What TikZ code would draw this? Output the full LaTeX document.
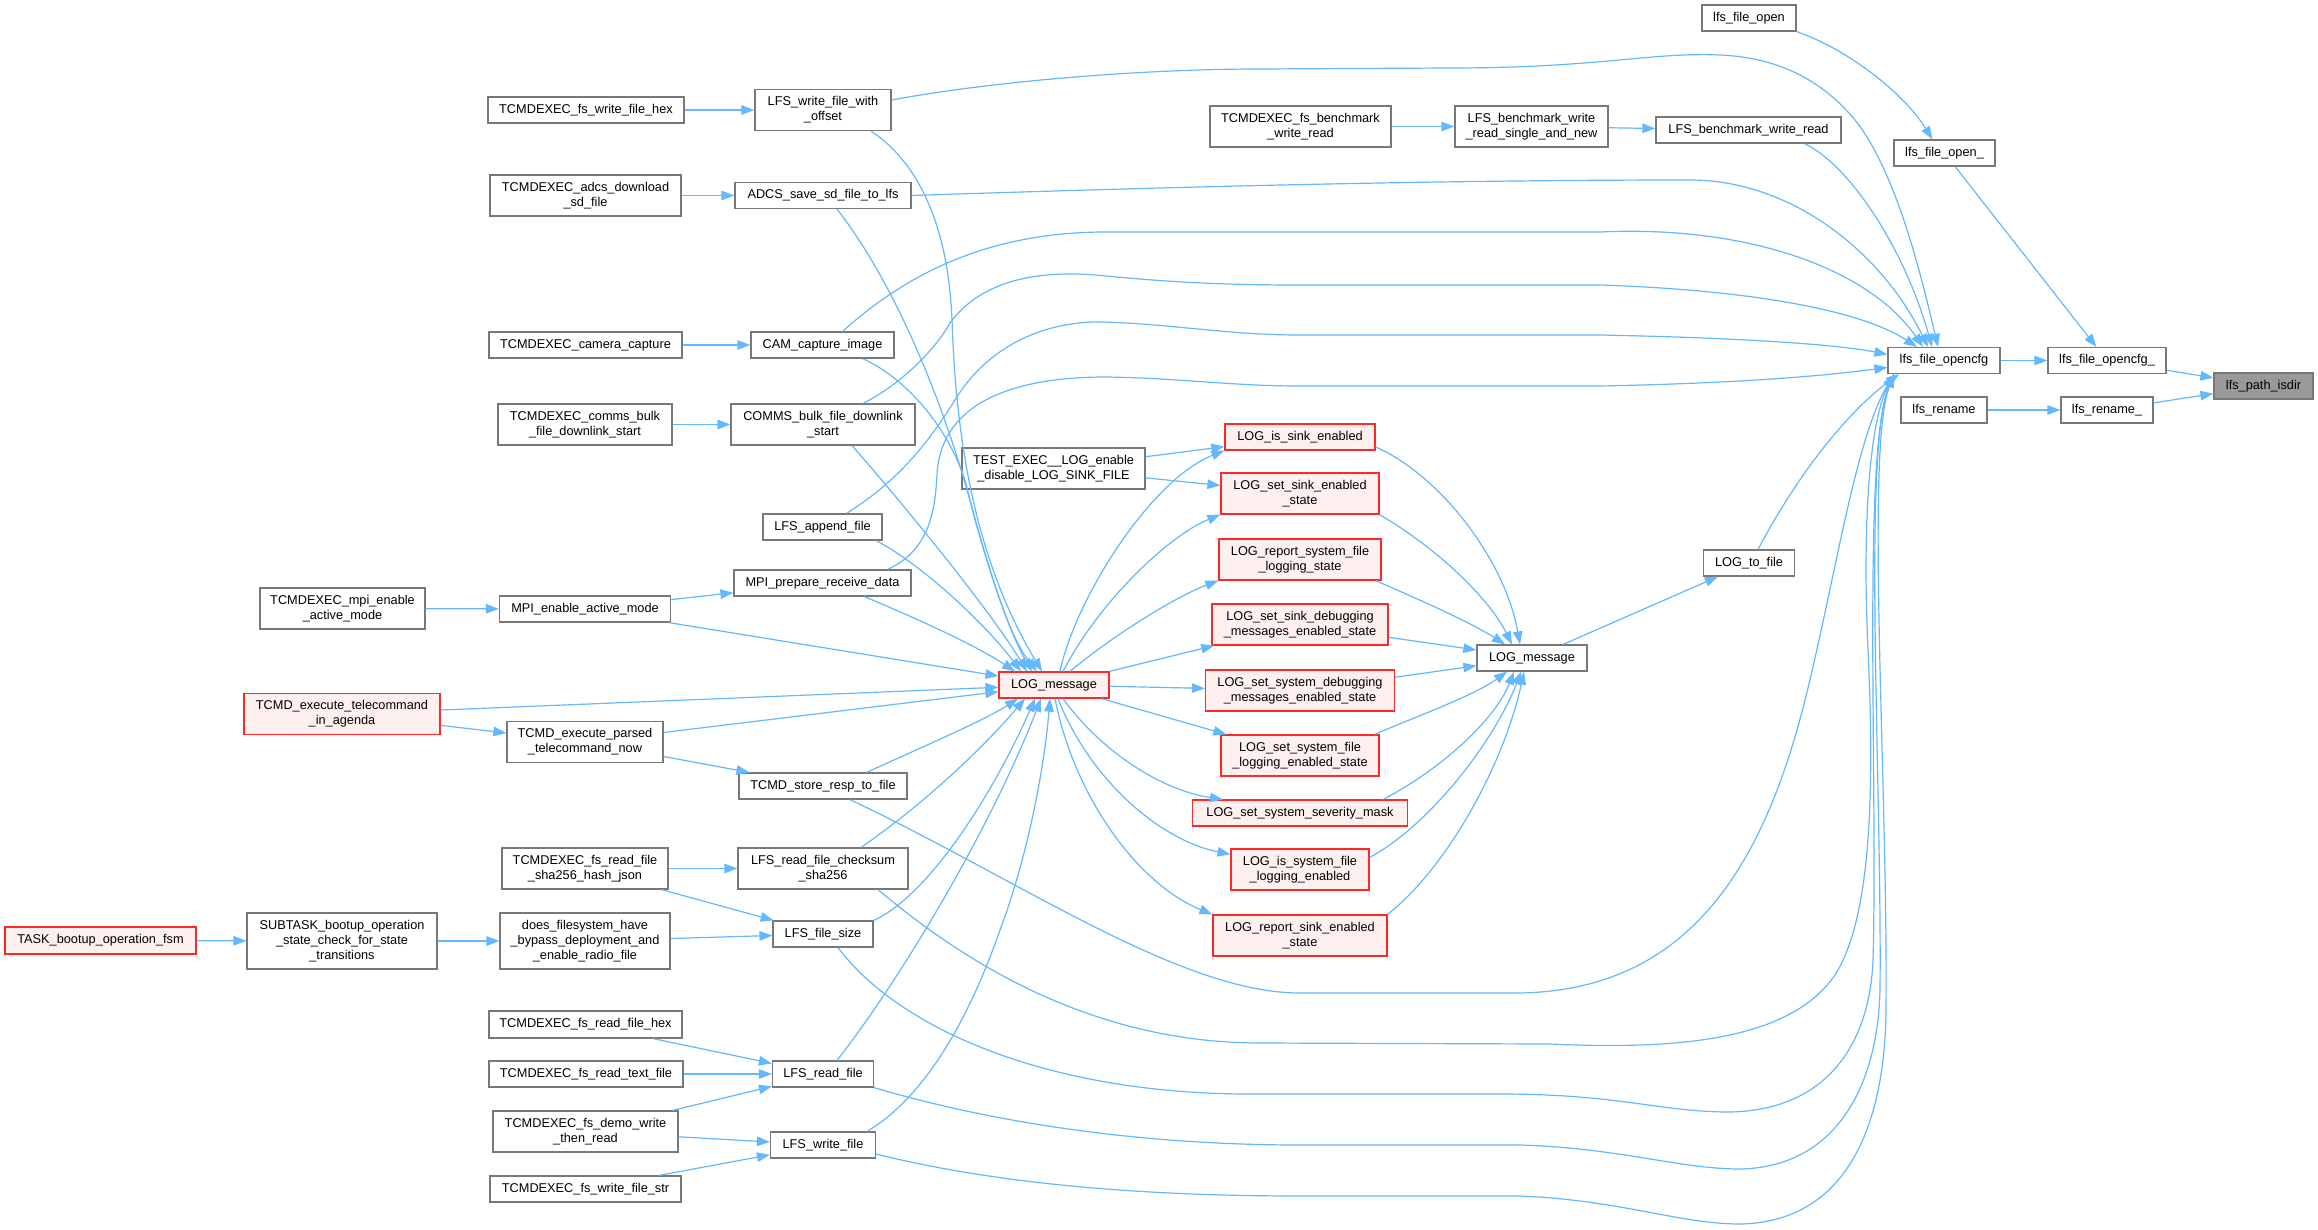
\documentclass[tikz,border=0pt]{standalone}
\usepackage{fontspec}
\setmainfont{Liberation Sans}
\usetikzlibrary{arrows.meta}
\definecolor{edgeblue}{RGB}{99,184,255}
\definecolor{boxgray}{RGB}{120,120,120}
\definecolor{redfill}{RGB}{255,240,240}
\definecolor{redline}{RGB}{255,40,40}
\definecolor{hifill}{RGB}{153,153,153}
\tikzset{
  box/.style={draw=boxgray, line width=1.2pt, fill=white, inner sep=0pt, align=center,
              font=\fontsize{12.75}{15}\selectfont},
  redbox/.style={box, draw=redline, fill=redfill},
  hibox/.style={box, fill=hifill},
  sz/.style 2 args={minimum width=#1pt, minimum height=#2pt},
  edge/.style={draw=edgeblue, line width=1.2pt, -{Triangle[length=13pt,width=9.5pt]}}
}
\begin{document}
\begin{tikzpicture}[x=1pt,y=-1pt]
\fill[white] (0,0) rectangle (2318,1229);
\useasboundingbox (0,0) rectangle (2318,1229);

% column 1-2
\node[box,sz={196}{26}] (fswritehex) at (586,110) {TCMDEXEC\_fs\_write\_file\_hex};
\node[box,sz={191}{41}] (adcsdl) at (585.5,195.5) {TCMDEXEC\_adcs\_download\\\_sd\_file};
\node[box,sz={193}{26}] (camcap) at (585.5,345) {TCMDEXEC\_camera\_capture};
\node[box,sz={174}{41}] (commsbulk) at (585,424.5) {TCMDEXEC\_comms\_bulk\\\_file\_downlink\_start};
\node[box,sz={165}{41}] (mpienable) at (342.5,608.5) {TCMDEXEC\_mpi\_enable\\\_active\_mode};
\node[box,sz={171}{26}] (mpiact) at (585,609) {MPI\_enable\_active\_mode};
\node[redbox,sz={196}{41}] (agenda) at (342,714) {TCMD\_execute\_telecommand\\\_in\_agenda};
\node[box,sz={156}{41}] (parsed) at (585,742) {TCMD\_execute\_parsed\\\_telecommand\_now};
\node[redbox,sz={191}{27}] (task) at (100.5,940.5) {TASK\_bootup\_operation\_fsm};
\node[box,sz={190}{56}] (subtask) at (342,941) {SUBTASK\_bootup\_operation\\\_state\_check\_for\_state\\\_transitions};
\node[box,sz={170}{56}] (does) at (585,941) {does\_filesystem\_have\\\_bypass\_deployment\_and\\\_enable\_radio\_file};
\node[box,sz={166}{41}] (shajson) at (585,868.5) {TCMDEXEC\_fs\_read\_file\\\_sha256\_hash\_json};
\node[box,sz={193}{27}] (readhex) at (585.5,1024.5) {TCMDEXEC\_fs\_read\_file\_hex};
\node[box,sz={194}{26}] (readtext) at (586,1074) {TCMDEXEC\_fs\_read\_text\_file};
\node[box,sz={185}{41}] (demo) at (585.5,1131.5) {TCMDEXEC\_fs\_demo\_write\\\_then\_read};
\node[box,sz={191}{26}] (writestr) at (585.5,1189) {TCMDEXEC\_fs\_write\_file\_str};

% column 3
\node[box,sz={136}{41}] (lfswo) at (823,110) {LFS\_write\_file\_with\\\_offset};
\node[box,sz={176}{26}] (adcs) at (823,195.5) {ADCS\_save\_sd\_file\_to\_lfs};
\node[box,sz={143}{26}] (cam) at (822.5,345) {CAM\_capture\_image};
\node[box,sz={184}{41}] (comms) at (823,424.5) {COMMS\_bulk\_file\_downlink\\\_start};
\node[box,sz={119}{26}] (append) at (822.5,527) {LFS\_append\_file};
\node[box,sz={177}{26}] (mpiprep) at (822.5,583) {MPI\_prepare\_receive\_data};
\node[box,sz={168}{26}] (store) at (823,786) {TCMD\_store\_resp\_to\_file};
\node[box,sz={170}{41}] (checksum) at (823,868.5) {LFS\_read\_file\_checksum\\\_sha256};
\node[box,sz={100}{26}] (fsize) at (823,934) {LFS\_file\_size};
\node[box,sz={101}{26}] (read) at (823,1074) {LFS\_read\_file};
\node[box,sz={105}{26}] (write) at (823,1145) {LFS\_write\_file};

% column 4
\node[box,sz={183}{41}] (test) at (1053.5,468.5) {TEST\_EXEC\_\_LOG\_enable\\\_disable\_LOG\_SINK\_FILE};
\node[redbox,sz={110}{26}] (logr) at (1054,685) {LOG\_message};

% column 5
\node[box,sz={181}{41}] (benchrw) at (1300.5,126.5) {TCMDEXEC\_fs\_benchmark\\\_write\_read};
\node[redbox,sz={150}{26}] (issink) at (1300,437) {LOG\_is\_sink\_enabled};
\node[redbox,sz={158}{41}] (setsink) at (1300,493.5) {LOG\_set\_sink\_enabled\\\_state};
\node[redbox,sz={162}{41}] (repsys) at (1300,559.5) {LOG\_report\_system\_file\\\_logging\_state};
\node[redbox,sz={176}{41}] (setsinkdbg) at (1300,624.5) {LOG\_set\_sink\_debugging\\\_messages\_enabled\_state};
\node[redbox,sz={189}{41}] (setsysdbg) at (1300,690.5) {LOG\_set\_system\_debugging\\\_messages\_enabled\_state};
\node[redbox,sz={158}{41}] (setsysfile) at (1300,755.5) {LOG\_set\_system\_file\\\_logging\_enabled\_state};
\node[redbox,sz={215}{26}] (sevmask) at (1300,813) {LOG\_set\_system\_severity\_mask};
\node[redbox,sz={138}{41}] (issysfile) at (1300,869.5) {LOG\_is\_system\_file\\\_logging\_enabled};
\node[redbox,sz={174}{41}] (repsink) at (1300,935.5) {LOG\_report\_sink\_enabled\\\_state};

% column 6
\node[box,sz={153}{41}] (benchsingle) at (1531.5,126.5) {LFS\_benchmark\_write\\\_read\_single\_and\_new};
\node[box,sz={110}{26}] (logmsg) at (1532,658) {LOG\_message};

% column 7
\node[box,sz={94}{26}] (fopen) at (1749,18) {lfs\_file\_open};
\node[box,sz={185}{26}] (benchrw2) at (1748.5,130) {LFS\_benchmark\_write\_read};
\node[box,sz={91}{26}] (logtofile) at (1749,563) {LOG\_to\_file};

% column 8-10
\node[box,sz={101}{26}] (fopenu) at (1944.5,153) {lfs\_file\_open\_};
\node[box,sz={112}{26}] (opencfg) at (1944,360.5) {lfs\_file\_opencfg};
\node[box,sz={86}{26}] (rename) at (1944,410) {lfs\_rename};
\node[box,sz={118}{26}] (opencfgu) at (2107,360.5) {lfs\_file\_opencfg\_};
\node[box,sz={92}{26}] (renameu) at (2107,410) {lfs\_rename\_};
\node[hibox,sz={99}{26}] (isdir) at (2263.5,386) {lfs\_path\_isdir};

% ---------- simple edges ----------
\draw[edge] (fswritehex) -- (lfswo);
\draw[edge] (adcsdl) -- (adcs);
\draw[edge] (camcap) -- (cam);
\draw[edge] (commsbulk) -- (comms);
\draw[edge] (mpienable) -- (mpiact);
\draw[edge] (mpiact) -- (mpiprep);
\draw[edge] (agenda) -- (parsed);
\draw[edge] (parsed) -- (store);
\draw[edge] (task) -- (subtask);
\draw[edge] (subtask) -- (does);
\draw[edge] (does) -- (fsize);
\draw[edge] (shajson) -- (checksum);
\draw[edge] (shajson) -- (fsize);
\draw[edge] (readhex) -- (read);
\draw[edge] (readtext) -- (read);
\draw[edge] (demo) -- (read);
\draw[edge] (demo) -- (write);
\draw[edge] (writestr) -- (write);
\draw[edge] (benchrw) -- (benchsingle);
\draw[edge] (benchsingle) -- (benchrw2);
\draw[edge] (opencfg) -- (opencfgu);
\draw[edge] (opencfgu) -- (isdir);
\draw[edge] (renameu) -- (isdir);
\draw[edge] (rename) -- (renameu);
\draw[edge] (fopenu) -- (opencfgu);
\draw[edge] (fopen.south east) .. controls (1850,50) and (1905,95) .. ([xshift=-12pt]fopenu.north);
\draw[edge] (test) -- (issink);
\draw[edge] (test) -- (setsink);
\draw[edge] (logmsg) -- (logtofile);

% ---------- into LOG_message (red) ----------
\draw[edge] (mpiact) -- (logr);
\draw[edge] (agenda) -- (logr);
\draw[edge] (parsed) -- (logr);
\draw[edge] ([xshift=48pt]lfswo.south) .. controls (915,160) and (948,220) .. (952,320)
  .. controls (956,440) and (975,560) .. ([xshift=-12pt]logr.north);
\draw[edge] ([xshift=14pt]adcs.south) .. controls (900,290) and (950,420) .. (975,520)
  .. controls (995,590) and (1012,640) .. ([xshift=-17pt]logr.north);
\draw[edge] ([xshift=40pt]cam.south) .. controls (900,375) and (945,420) .. (965,480)
  .. controls (985,560) and (1008,630) .. ([xshift=-22pt]logr.north);
\draw[edge] ([xshift=29pt]comms.south) .. controls (900,500) and (990,610) .. ([xshift=-27pt]logr.north);
\draw[edge] ([xshift=54pt]append.south) .. controls (930,570) and (990,630) .. ([xshift=-33pt]logr.north);
\draw[edge] ([xshift=42pt]mpiprep.south) .. controls (920,620) and (975,645) .. ([xshift=-39pt]logr.north);
\draw[edge] ([xshift=-41pt]store.north east) .. controls (920,748) and (985,720) .. ([xshift=-36pt]logr.south);
\draw[edge] ([xshift=38pt]checksum.north) .. controls (930,800) and (990,740) .. ([xshift=-29pt]logr.south);
\draw[edge] (fsize.north east) .. controls (930,895) and (995,790) .. ([xshift=-19pt]logr.south);
\draw[edge] ([xshift=14pt]read.north) .. controls (900,980) and (990,830) .. ([xshift=-13pt]logr.south);
\draw[edge] ([xshift=44pt]write.north) .. controls (920,1100) and (965,1030) .. (1000,930)
  .. controls (1030,850) and (1045,760) .. ([xshift=-4pt]logr.south);

% ---------- LOG_message (red) to LOG_* ----------
\draw[edge] ([xshift=6pt]logr.north) .. controls (1075,600) and (1150,480) .. (issink.south west);
\draw[edge] ([xshift=9pt]logr.north) .. controls (1100,600) and (1170,535) .. (setsink.south west);
\draw[edge] ([xshift=16pt]logr.north) .. controls (1120,630) and (1180,595) .. (repsys.south west);
\draw[edge] (logr) -- (setsinkdbg);
\draw[edge] (logr) -- (setsysdbg);
\draw[edge] (logr) -- (setsysfile);
\draw[edge] ([xshift=9pt]logr.south) .. controls (1100,750) and (1160,790) .. ([xshift=31pt]sevmask.north west);
\draw[edge] ([xshift=4pt]logr.south) .. controls (1090,780) and (1160,840) .. ([yshift=-6pt]issysfile.north west);
\draw[edge] ([xshift=1pt]logr.south) .. controls (1075,800) and (1140,885) .. (repsink.north west);

% ---------- LOG_* to LOG_message ----------
\draw[edge] ([yshift=-10pt]issink.east) .. controls (1440,475) and (1505,560) .. ([xshift=-12pt]logmsg.north);
\draw[edge] (setsink.south east) .. controls (1440,550) and (1490,600) .. ([xshift=-20pt]logmsg.north);
\draw[edge] ([xshift=-6pt]repsys.south east) .. controls (1420,600) and (1470,622) .. ([xshift=-27pt]logmsg.north);
\draw[edge] (setsinkdbg) -- (logmsg);
\draw[edge] (setsysdbg) -- (logmsg);
\draw[edge] ([xshift=-5pt]setsysfile.north east) .. controls (1420,715) and (1475,695) .. ([xshift=-25pt]logmsg.south);
\draw[edge] ([xshift=-25pt]sevmask.north east) .. controls (1440,770) and (1495,720) .. ([xshift=-18pt]logmsg.south);
\draw[edge] ([yshift=12pt]issysfile.east) .. controls (1430,825) and (1495,740) .. ([xshift=-11pt]logmsg.south);
\draw[edge] (repsink.north east) .. controls (1450,865) and (1505,760) .. ([xshift=-8pt]logmsg.south);

% ---------- into lfs_file_opencfg ----------
\draw[edge] ([yshift=10pt]lfswo.east) .. controls (1000,80) and (1150,69) .. (1259,69) -- (1450,68)
  .. controls (1600,68) and (1650,52) .. (1720,55) .. controls (1790,58) and (1830,90) .. (1855,120)
  .. controls (1895,170) and (1920,270) .. ([xshift=-6pt]opencfg.north);
\draw[edge] ([xshift=56pt]benchrw2.south) .. controls (1850,165) and (1905,250) .. ([xshift=-12pt]opencfg.north);
\draw[edge] (adcs.east) .. controls (1200,186) and (1450,180) .. (1690,180)
  .. controls (1790,180) and (1880,250) .. ([xshift=-16pt]opencfg.north);
\draw[edge] ([xshift=20pt]cam.north) .. controls (900,280) and (980,232) .. (1106,232) -- (1600,232)
  .. controls (1750,225) and (1870,270) .. ([xshift=-21pt]opencfg.north);
\draw[edge] ([xshift=40pt]comms.north) .. controls (900,385) and (935,350) .. (950,323)
  .. controls (985,275) and (1050,270) .. (1106,276) .. controls (1170,282) and (1220,285) .. (1300,285)
  -- (1600,285) .. controls (1750,290) and (1860,310) .. ([xshift=-27pt]opencfg.north);
\draw[edge] ([xshift=24pt]append.north) .. controls (900,480) and (930,440) .. (955,400)
  .. controls (985,350) and (1040,320) .. (1106,322) .. controls (1180,325) and (1230,335) .. (1300,335)
  -- (1600,335) .. controls (1750,338) and (1840,345) .. ([yshift=6pt]opencfg.west);
\draw[edge] ([xshift=-24pt]mpiprep.north east) .. controls (930,550) and (935,510) .. (937,475)
  .. controls (940,410) and (1000,377) .. (1106,377) .. controls (1180,378) and (1230,386) .. (1300,386)
  -- (1600,386) .. controls (1750,383) and (1830,375) .. ([yshift=-7pt]opencfg.west);
\draw[edge] ([xshift=9pt]logtofile.north) .. controls (1800,470) and (1850,410) .. ([xshift=-45pt]opencfg.south);
\draw[edge] ([xshift=27pt]store.south) .. controls (1020,880) and (1180,993) .. (1300,993) -- (1520,993)
  .. controls (1680,990) and (1760,880) .. (1805,700) .. controls (1835,580) and (1855,440) .. ([xshift=-50pt]opencfg.south);
\draw[edge] ([xshift=55pt]checksum.south) .. controls (950,950) and (1080,1043) .. (1260,1043) -- (1550,1044)
  .. controls (1680,1050) and (1790,1040) .. (1835,975) .. controls (1870,920) and (1875,800) .. (1868,650)
  .. controls (1862,520) and (1870,420) .. ([xshift=-50pt]opencfg.south);
\draw[edge] ([xshift=15pt]fsize.south) .. controls (900,1030) and (1050,1094) .. (1250,1094) -- (1500,1094)
  .. controls (1620,1094) and (1660,1112) .. (1730,1112) .. controls (1830,1110) and (1870,1040) .. (1873,960)
  .. controls (1878,780) and (1862,450) .. ([xshift=-50pt]opencfg.south);
\draw[edge] (read.south east) .. controls (1000,1125) and (1150,1145) .. (1300,1145) -- (1520,1145)
  .. controls (1620,1148) and (1680,1169) .. (1740,1169) .. controls (1840,1167) and (1878,1080) .. (1880,990)
  .. controls (1882,780) and (1862,450) .. ([xshift=-50pt]opencfg.south);
\draw[edge] ([yshift=-9pt]write.east) .. controls (1000,1185) and (1150,1196) .. (1300,1196) -- (1520,1196)
  .. controls (1620,1200) and (1680,1224) .. (1740,1224) .. controls (1850,1222) and (1885,1120) .. (1886,1010)
  .. controls (1888,780) and (1865,450) .. ([xshift=-50pt]opencfg.south);
\end{tikzpicture}
\end{document}
